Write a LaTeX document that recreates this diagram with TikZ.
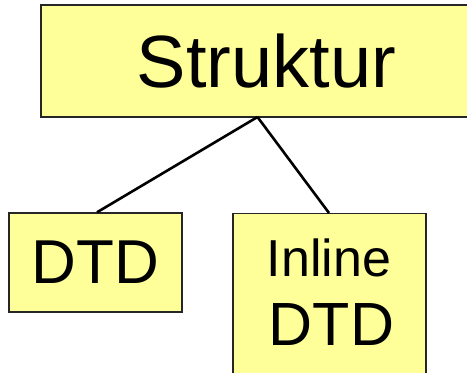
\documentclass[tikz,border=0pt]{standalone}
\usepackage{fontspec}
\setmainfont{Liberation Sans}
\begin{document}
\begin{tikzpicture}[x=1pt,y=-1pt,
  box/.style={draw=black!85, line width=1.4pt, fill=boxyellow, rectangle,
    inner sep=0pt, align=center},
  label/.style={anchor=base, inner sep=0pt},
  link/.style={draw=black, line width=2.6pt}]
\definecolor{boxyellow}{HTML}{FFFF99}
\useasboundingbox (0,0) rectangle (467,373);
\clip (0,0) rectangle (467,373);
% top node
\node[box, minimum width=451pt, minimum height=112pt,
  font=\fontsize{74}{80}\selectfont] (root) at (266.5,61) {Struktur};
% children
\node[box, minimum width=173pt, minimum height=99pt,
  font=\fontsize{62}{68}\selectfont] (dtd) at (95.5,262.5) {DTD};
\node[box, minimum width=193pt, minimum height=176pt, anchor=north] (inl)
  at (329.5,213) {};
\node[label, font=\fontsize{52}{60}\selectfont] (inltop) at (329,276) {Inline};
\node[label, font=\fontsize{61}{68}\selectfont] (inlbot) at (331.5,345) {DTD};
% connectors
\coordinate (fork) at (257.5,117);
\draw[link] (fork) -- (dtd.north -| 97,0);
\draw[link] (fork) -- (inl.north -| 329,0);
\end{tikzpicture}
\end{document}
